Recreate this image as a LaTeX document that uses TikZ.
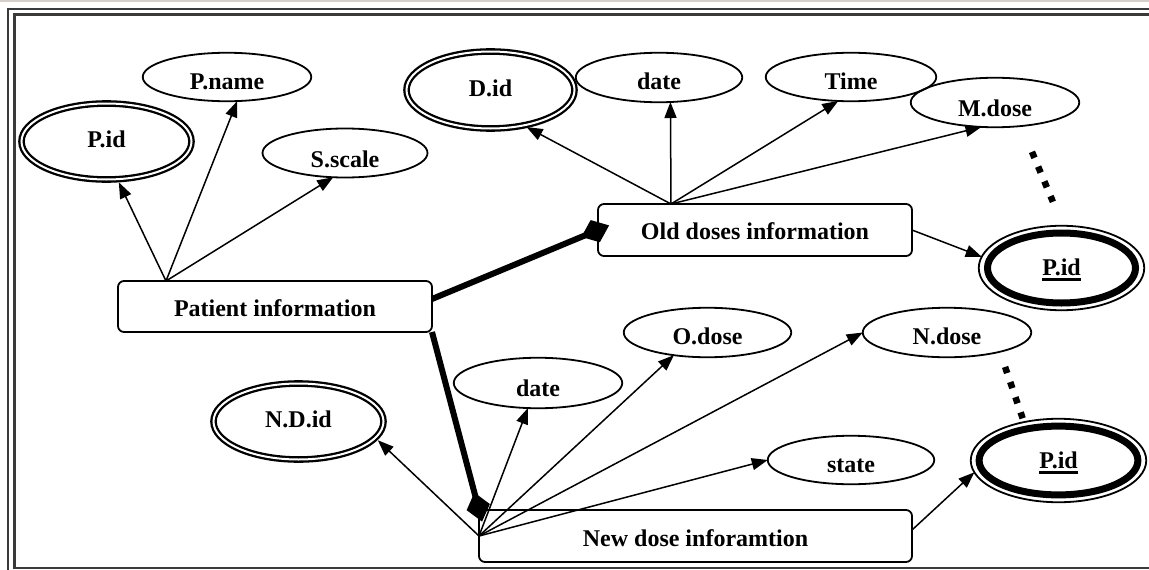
\documentclass[tikz,border=0pt]{standalone}
\usepackage{fontspec}
\setmainfont{Liberation Serif}
\usetikzlibrary{arrows.meta,shapes.geometric,calc}

\definecolor{framegrey}{RGB}{58,58,58}
\definecolor{barbeige}{RGB}{212,208,200}

% underlined key attribute label
\newcommand{\keyattrtext}[1]{\setbox0=\hbox{#1}\makebox[0pt][l]{\rule[-5pt]{\wd0}{2.6pt}}\box0}

\tikzset{
  labelfont/.style={font=\fontsize{24}{28}\selectfont\bfseries},
  txh/.style={text height=#1, text depth=0pt},
  entbox/.style={rectangle, draw, rounded corners=6pt, line width=1.8pt,
    inner sep=0pt, outer sep=0pt, labelfont},
  attrell/.style={ellipse, draw, line width=1.8pt, inner sep=0pt, outer sep=0pt, labelfont},
  keyell/.style={attrell, line width=2.3pt, double, double distance=2pt},
  attrlink/.style={line width=1.5pt, -{Triangle[length=16pt,width=12pt]}},
  idlink/.style={line width=6pt, -{Diamond[length=30pt,width=24pt]}, shorten >=-12pt},
  partlink/.style={line width=6.5pt, dash pattern=on 6.5pt off 9.5pt},
  heavyring/.style={line width=7pt}
}

\begin{document}
\begin{tikzpicture}[x=1pt,y=-1pt]
\useasboundingbox (0,0) rectangle (1149,570);

% window strip and double border
\fill[barbeige] (0,0) rectangle (1149,2);
\draw[framegrey, line width=2.5pt] (8,570) -- (8,9) -- (1149,9);
\draw[framegrey, line width=3pt] (1149,14.5) -- (14,14.5) -- (14,568);
\draw[framegrey, line width=2pt] (12.5,568.3) -- (1149,568.3);

% entities
\node[entbox, minimum width=314pt, minimum height=51pt, txh=19pt] (pinfo) at (275,306.5) {Patient information};
\node[entbox, minimum width=314pt, minimum height=52pt, txh=19pt] (olddose) at (755,230) {Old doses information};
\node[entbox, minimum width=433pt, minimum height=52pt, txh=21pt] (newdose) at (695.5,536) {New dose inforamtion};

% attributes of the patient
\node[keyell, minimum width=170pt, minimum height=76pt, txh=11pt] (pidP) at (106.5,141.5) {P.id};
\node[attrell, minimum width=168.5pt, minimum height=48.5pt, txh=24pt] (pname) at (227,77) {P.name};
\node[attrell, minimum width=165pt, minimum height=49pt, txh=29pt] (sscale) at (345,153) {S.scale};

% attributes of the old doses
\node[keyell, minimum width=168pt, minimum height=77pt, txh=13pt] (did) at (490.5,90) {D.id};
\node[attrell, minimum width=166.5pt, minimum height=49.5pt, txh=24pt] (dateA) at (659,77.5) {date};
\node[attrell, minimum width=170.5pt, minimum height=48.5pt, txh=24pt] (time) at (851,77) {Time};
\node[attrell, minimum width=168.5pt, minimum height=49.5pt, txh=27pt] (mdose) at (995,102.5) {M.dose};
\node[attrell, minimum width=165.5pt, minimum height=84.5pt, txh=15pt] (pidA) at (1061.5,268) {\keyattrtext{P.id}};
\draw[heavyring] (pidA.center) ellipse [x radius=74pt, y radius=35pt];

% attributes of the new dose
\node[keyell, minimum width=170pt, minimum height=76pt, txh=11pt] (ndid) at (298.5,421.5) {N.D.id};
\node[attrell, minimum width=168.5pt, minimum height=50.5pt, txh=27pt] (dateB) at (538,383) {date};
\node[attrell, minimum width=167.5pt, minimum height=49.5pt, txh=24pt] (odose) at (707.5,332.5) {O.dose};
\node[attrell, minimum width=168.5pt, minimum height=49.5pt, txh=24pt] (ndose) at (947,332.5) {N.dose};
\node[attrell, minimum width=166.5pt, minimum height=48.5pt, txh=25pt] (state) at (851,460) {state};
\node[attrell, minimum width=175.5pt, minimum height=83.5pt, txh=16pt] (pidB) at (1058.5,460.5) {\keyattrtext{P.id}};
\draw[heavyring] (pidB.center) ellipse [x radius=79.4pt, y radius=34.4pt];

% fan-out points
\coordinate (pfan) at ([xshift=48pt]pinfo.north west);
\coordinate (ofan) at ([xshift=73pt]olddose.north west);

% attribute arrows
\draw[attrlink, shorten >=3.5pt] (pfan) -- (pidP.-74);
\draw[attrlink] (pfan) -- (pname.-67);
\draw[attrlink] (pfan) -- (sscale.-116);

\draw[attrlink, shorten >=3.5pt] (ofan) -- (did.-47);
\draw[attrlink] (ofan) -- (dateA.-65);
\draw[attrlink] (ofan) -- (time.-118);
\draw[attrlink] (ofan) -- (mdose.-119);
\draw[attrlink] (olddose.east) -- (pidA.172);

\draw[attrlink, shorten >=3.5pt] (newdose.west) -- (ndid.-12);
\draw[attrlink] (newdose.west) -- (dateB.-112);
\draw[attrlink] (newdose.west) -- (odose.-146);
\draw[attrlink] (newdose.west) -- (ndose.west);
\draw[attrlink] (newdose.west) -- (state.west);
\draw[attrlink] ([yshift=6pt]newdose.east) -- (pidB.188);

% identifying relationships
\draw[idlink] ([yshift=7.5pt]pinfo.east) -- (olddose.west);
\draw[idlink] (pinfo.south east) -- (newdose.north west);

% partial key links
\draw[partlink, shorten <=28pt, shorten >=26pt] (mdose.-42) -- (pidA.88);
\draw[partlink, shorten <=16pt, shorten >=4pt] (ndose.-20) -- (pidB.132);
\end{tikzpicture}
\end{document}
